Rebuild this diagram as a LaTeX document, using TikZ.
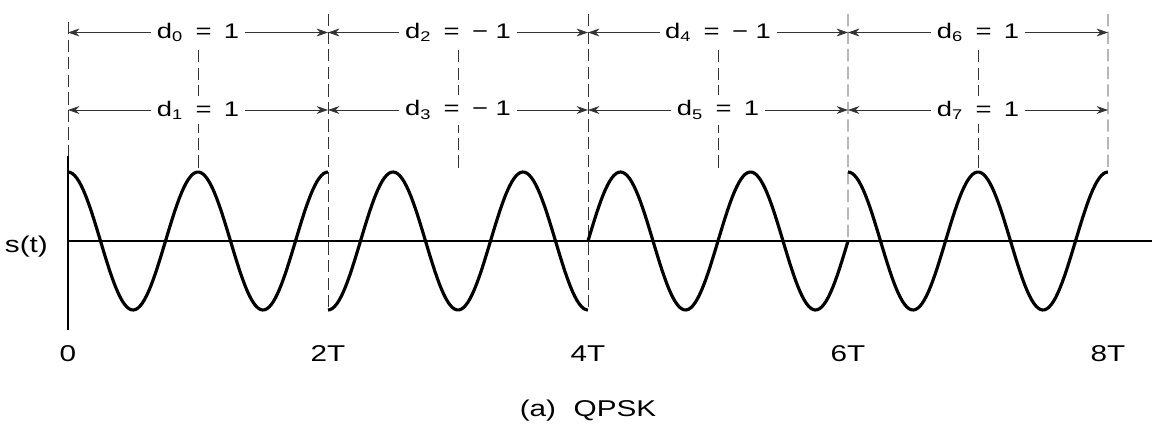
\documentclass[tikz,border=0pt]{standalone}
\usepackage{fontspec}
\usetikzlibrary{arrows.meta}
\newfontfamily\diagfont{Liberation Sans}[FakeStretch=1.3]

\begin{document}
\begin{tikzpicture}[
    guide/.style={draw=black!80, line width=0.5pt, dash pattern=on 7pt off 3pt},
    dimline/.style={draw=black!80, line width=0.5pt, -{Stealth[length=6.5pt,width=4.5pt]}},
    dimlabel/.style={fill=white, inner sep=3pt},
    ticklabel/.style={font=\fontsize{13}{15}\diagfont},
    wave/.style={line width=1.8pt, line join=round},
    axis/.style={line width=1.1pt},
    font=\fontsize{12}{14}\diagfont
  ]
  \useasboundingbox (-1.36,-3.64) rectangle (22.0,4.82);

  \foreach \k in {0,...,4} {
    \coordinate (top\k) at (5.2*\k,4.54);
    \coordinate (ra\k) at (5.2*\k,4.17);
    \coordinate (rb\k) at (5.2*\k,2.62);
  }

  \draw[guide] (0,4.38) -- (0,1.7);
  \draw[guide] (top1) -- (5.2,-1.38);
  \draw[guide] (top2) -- (10.4,-1.38);
  \draw[guide] (top3) -- (15.6,0);
  \draw[guide] (top4) -- (20.8,1.38);
  \foreach \k in {1,3,5,7}
    \draw[guide] (2.6*\k,3.82) -- (2.6*\k,1.38);

  \coordinate (origin) at (0,0);
  \draw[axis] (origin) -- (21.68,0);
  \draw[axis] (0,1.7) -- (0,-1.78);

  \draw[wave] plot[domain=0:5.2, samples=120] (\x,{1.38*cos(360*\x/2.6)});
  \draw[wave] plot[domain=5.2:10.4, samples=120] (\x,{-1.38*cos(360*\x/2.6)});
  \draw[wave] plot[domain=10.4:15.6, samples=120] (\x,{1.38*sin(360*\x/2.6)});
  \draw[wave] plot[domain=15.6:20.8, samples=120] (\x,{1.38*cos(360*\x/2.6)});

  \foreach \s/\i/\v [evaluate=\s as \n using int(\s+1)] in {0/0/1, 1/2/−\ 1, 2/4/−\ 1, 3/6/1} {
    \node[dimlabel] (d\i) at (5.2*\s+2.6,4.17) {d\textsubscript{\i}\hspace{7pt}=\hspace{7pt}\v};
    \draw[dimline] (d\i) -- (ra\s);
    \draw[dimline] (d\i) -- (ra\n);
  }
  \foreach \s/\i/\v [evaluate=\s as \n using int(\s+1)] in {0/1/1, 1/3/−\ 1, 2/5/1, 3/7/1} {
    \node[dimlabel] (d\i) at (5.2*\s+2.6,2.62) {d\textsubscript{\i}\hspace{7pt}=\hspace{7pt}\v};
    \draw[dimline] (d\i) -- (rb\s);
    \draw[dimline] (d\i) -- (rb\n);
  }

  \foreach \k/\lab in {0/0, 1/2T, 2/4T, 3/6T, 4/8T}
    \node[ticklabel] (tick\k) at (5.2*\k,-2.26) {\lab};
  \node[ticklabel, anchor=east] (sig) at (-0.28,-0.12) {s(t)};
  \node[ticklabel] (caption) at (10.4,-3.4) {(a)\hspace{10pt}QPSK};
\end{tikzpicture}
\end{document}
